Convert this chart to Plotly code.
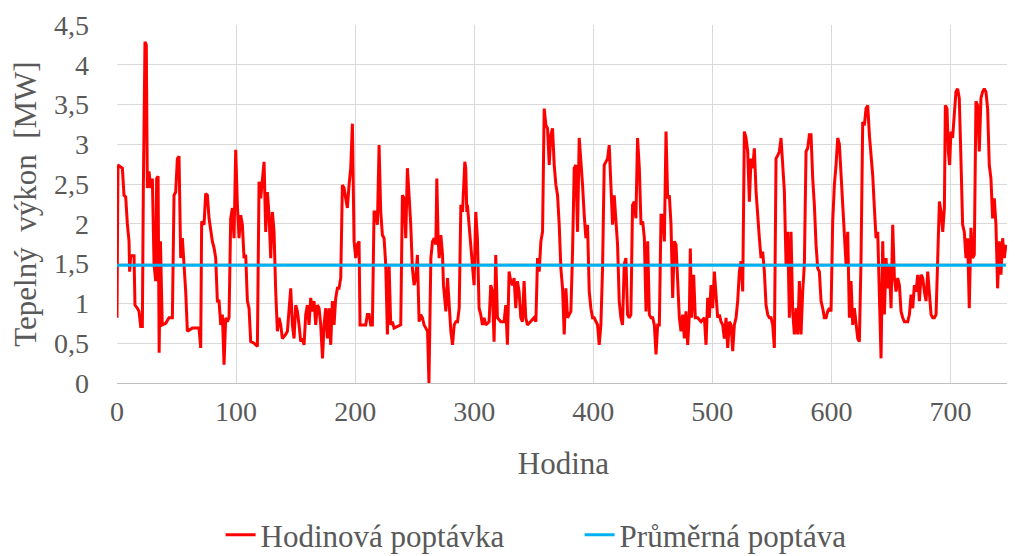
import plotly.graph_objects as go

# Hours (x) and hourly heat demand [MW]
hours = [0, 0.8, 2.5, 4.5, 5.9, 7.3, 8.7, 10.1, 10.6, 11.5, 14.3, 15.1, 17.1, 18.5, 19.9, 21.3, 22.1, 23.5, 24.6, 25.5,
         26.9, 28.3, 29.7, 31.1, 32.5, 33.3, 34.5, 35.4, 36.5, 38.0, 40.9, 43.7, 46.5, 47.9, 49.3, 50.7, 52.1, 52.9, 53.5, 54.9,
         56.3, 57.7, 59.1, 63.3, 68.9, 70.3, 71.1, 73.1, 74.5, 75.9, 77.3, 78.7, 80.1, 81.5, 82.9, 84.3, 85.7, 87.1, 88.5, 89.9,
         91.3, 92.7, 94.1, 95.5, 96.9, 98.3, 99.7, 101.1, 102.5, 103.9, 105.3, 106.7, 108.1, 109.5, 110.9, 112.3, 115.1, 117.9, 119.3, 120.7,
         122.1, 123.5, 124.9, 126.3, 127.7, 129.1, 130.5, 131.9, 133.3, 134.7, 136.1, 137.5, 138.9, 141.7, 143.1, 144.5, 145.9, 147.3, 148.7, 150.1,
         151.5, 152.9, 154.3, 155.7, 157.1, 158.5, 159.9, 161.3, 162.7, 164.1, 165.5, 166.9, 168.3, 169.7, 171.1, 172.6, 173.9, 175.3, 176.7, 178.1,
         179.5, 180.9, 182.3, 183.7, 185.1, 186.5, 187.9, 189.3, 190.7, 192.1, 193.5, 194.9, 196.3, 197.7, 199.1, 200.5, 201.9, 203.3, 204.1, 206.1,
         208.9, 210.3, 211.7, 213.1, 214.5, 215.9, 217.3, 218.7, 220.1, 221.5, 222.9, 224.3, 225.7, 227.1, 228.5, 229.9, 231.3, 232.7, 235.5, 238.3,
         239.7, 241.1, 242.5, 243.9, 245.3, 246.7, 248.1, 249.5, 250.9, 252.3, 253.7, 255.1, 256.5, 257.9, 259.4, 260.8, 262.0, 263.6, 265.0, 266.4,
         267.8, 268.6, 269.7, 270.6, 272.0, 273.4, 274.2, 274.8, 276.2, 277.6, 279.0, 280.4, 281.8, 283.2, 284.6, 286.0, 287.4, 288.8, 290.2, 291.0,
         292.1, 292.9, 293.8, 294.3, 295.7, 297.1, 298.5, 299.9, 301.3, 302.7, 304.1, 305.5, 306.9, 308.3, 309.7, 312.5, 313.9, 315.3, 316.7, 318.1,
         319.5, 322.3, 325.1, 326.5, 327.9, 329.3, 330.7, 332.1, 333.5, 334.9, 336.3, 337.7, 339.1, 340.5, 341.9, 343.3, 344.7, 347.5, 350.3, 351.8,
         353.2, 354.6, 356.0, 357.4, 358.3, 358.8, 360.2, 361.6, 363.0, 364.4, 365.8, 367.2, 368.6, 370.0, 371.4, 372.8, 374.2, 375.6, 377.0, 378.4,
         379.8, 381.2, 382.6, 384.0, 385.4, 386.8, 388.2, 389.6, 391.0, 392.4, 393.8, 395.2, 396.6, 398.0, 399.4, 400.8, 402.2, 403.6, 405.0, 406.4,
         407.8, 409.2, 410.6, 412.0, 413.4, 414.8, 416.2, 417.6, 419.0, 420.4, 421.8, 423.2, 424.6, 426.0, 427.4, 428.8, 430.2, 431.6, 433.0, 434.4,
         435.8, 437.2, 438.7, 440.1, 441.5, 442.9, 444.3, 445.7, 447.1, 448.5, 449.9, 451.3, 452.7, 454.1, 455.5, 456.9, 458.3, 459.7, 461.1, 462.5,
         463.9, 465.3, 466.7, 468.1, 469.5, 470.9, 472.3, 473.7, 475.1, 476.5, 477.9, 479.3, 480.7, 481.5, 482.6, 484.3, 485.7, 487.7, 490.5, 493.3,
         494.7, 496.1, 497.5, 498.9, 500.3, 501.7, 503.1, 504.5, 505.9, 507.3, 508.7, 510.1, 511.5, 512.9, 514.3, 515.7, 517.1, 518.5, 519.9, 521.3,
         522.7, 524.1, 525.5, 526.9, 528.3, 529.7, 531.1, 532.5, 533.9, 535.3, 536.7, 538.1, 539.5, 540.9, 542.3, 543.7, 545.1, 546.5, 547.9, 549.3,
         550.7, 552.1, 553.5, 554.9, 556.3, 557.7, 559.1, 560.5, 561.9, 563.3, 564.7, 566.1, 567.5, 568.9, 570.3, 571.7, 573.1, 574.5, 575.9, 577.3,
         578.7, 580.1, 581.5, 582.9, 584.3, 585.7, 587.1, 588.5, 589.9, 591.3, 592.7, 594.1, 595.5, 596.9, 598.3, 599.7, 601.1, 602.5, 603.9, 605.3,
         606.7, 608.1, 609.5, 610.9, 612.3, 613.7, 615.1, 616.5, 617.9, 619.3, 620.7, 622.1, 623.5, 624.9, 626.3, 627.7, 629.1, 630.5, 631.9, 633.3,
         634.7, 636.1, 637.5, 638.9, 640.3, 641.7, 643.1, 644.5, 645.9, 647.3, 648.7, 650.1, 651.5, 652.9, 654.3, 655.7, 657.1, 658.5, 659.9, 661.3,
         664.1, 665.5, 666.9, 668.3, 669.7, 671.1, 672.5, 673.9, 675.3, 676.7, 678.1, 679.5, 680.9, 682.3, 683.7, 685.1, 686.5, 687.9, 689.3, 690.7,
         692.1, 693.5, 694.9, 695.7, 697.1, 698.2, 699.3, 700.4, 701.8, 703.2, 704.6, 706.0, 707.4, 708.8, 710.2, 711.6, 713.0, 714.4, 715.8, 717.2,
         718.6, 720.0, 721.4, 722.8, 724.2, 725.6, 727.0, 728.4, 729.8, 731.2, 732.6, 734.0, 735.4, 736.8, 738.2, 739.6, 741.0, 742.4, 743.8, 745.2,
         746.6]

demand = [0.82, 2.74, 2.72, 2.70, 2.36, 2.34, 2.00, 1.78, 1.40, 1.60, 1.60, 0.98, 0.94, 0.90, 0.71, 0.71, 2.40, 4.29, 4.25, 2.45,
          2.66, 2.45, 2.57, 1.49, 1.28, 2.57, 2.60, 0.38, 1.78, 0.73, 0.75, 0.82, 0.82, 2.36, 2.40, 2.82, 2.85, 2.00, 1.57, 1.82,
          1.53, 1.15, 0.65, 0.69, 0.69, 0.44, 2.03, 1.99, 2.38, 2.36, 2.07, 1.90, 1.78, 1.70, 1.57, 1.03, 1.03, 0.73, 0.86, 0.23,
          0.82, 0.77, 0.82, 2.07, 2.20, 1.82, 2.93, 2.24, 1.82, 2.11, 1.99, 1.57, 1.61, 1.03, 0.94, 0.52, 0.50, 0.46, 2.53, 2.32,
          2.53, 2.78, 1.90, 2.40, 2.11, 1.57, 2.15, 1.90, 1.15, 0.65, 0.82, 0.73, 0.56, 0.61, 0.65, 0.94, 1.19, 0.73, 0.56, 0.98,
          0.90, 0.73, 0.52, 0.56, 0.48, 0.86, 0.98, 0.73, 1.07, 0.90, 1.03, 0.73, 0.98, 0.94, 0.73, 0.31, 0.73, 0.94, 0.56, 0.94,
          0.48, 1.03, 0.73, 1.07, 1.19, 1.19, 1.32, 2.49, 2.45, 2.32, 2.20, 2.49, 2.70, 3.26, 1.78, 1.57, 1.74, 1.78, 0.73, 0.73,
          0.73, 0.86, 0.86, 0.73, 0.73, 2.15, 2.15, 1.99, 2.99, 2.15, 1.86, 1.82, 1.49, 0.61, 1.49, 0.73, 0.77, 0.69, 0.71, 0.73,
          2.36, 2.32, 1.82, 2.70, 2.36, 1.99, 1.44, 1.23, 1.32, 1.61, 0.77, 0.86, 0.82, 0.73, 0.69, 0.65, 0.00, 1.57, 1.78, 1.82,
          1.74, 2.57, 1.82, 1.57, 1.86, 1.61, 1.23, 1.15, 0.90, 1.32, 0.98, 0.65, 0.48, 0.73, 0.77, 0.77, 0.94, 2.24, 2.15, 2.36,
          2.78, 2.70, 2.15, 2.24, 1.99, 1.74, 1.49, 1.23, 2.15, 1.82, 0.94, 0.86, 0.73, 0.82, 0.73, 0.77, 1.23, 1.15, 0.52, 1.61,
          0.82, 0.77, 0.77, 0.98, 0.48, 1.40, 1.28, 1.23, 1.32, 0.94, 1.28, 1.15, 0.82, 0.77, 1.28, 0.82, 0.73, 0.77, 0.82, 0.77,
          1.57, 1.40, 1.78, 1.90, 2.74, 3.45, 3.24, 3.20, 2.74, 3.12, 3.20, 2.74, 2.49, 2.36, 1.99, 1.44, 1.19, 0.61, 1.19, 0.82,
          0.86, 0.90, 1.65, 2.70, 2.74, 1.90, 3.08, 2.82, 2.49, 2.11, 1.82, 1.99, 1.15, 0.94, 0.82, 0.82, 0.77, 0.73, 0.48, 0.73,
          1.44, 2.74, 2.78, 2.82, 2.99, 2.41, 1.99, 2.36, 1.99, 1.74, 1.03, 0.82, 0.73, 1.49, 1.57, 0.86, 0.82, 0.86, 2.24, 2.28,
          2.07, 3.08, 2.70, 1.99, 2.03, 1.82, 0.90, 1.78, 0.86, 0.82, 0.82, 0.73, 0.36, 0.73, 0.73, 2.11, 2.11, 1.78, 3.16, 2.32,
          2.36, 1.99, 1.07, 1.78, 1.74, 1.15, 0.82, 0.65, 0.86, 0.56, 0.90, 0.48, 0.86, 1.69, 0.82, 1.36, 0.82, 0.82, 0.77, 0.82,
          0.48, 1.07, 0.82, 1.23, 0.94, 1.40, 1.03, 0.82, 0.86, 0.77, 0.73, 0.56, 0.82, 0.44, 0.77, 0.73, 0.40, 0.73, 0.82, 1.03,
          1.40, 1.53, 1.15, 3.16, 3.08, 2.91, 2.28, 2.82, 2.70, 2.95, 2.41, 2.07, 1.82, 1.57, 1.65, 1.40, 0.98, 0.86, 0.82, 0.82,
          0.73, 0.44, 2.82, 2.86, 2.91, 3.08, 2.74, 2.41, 1.49, 1.90, 0.82, 1.90, 0.90, 0.61, 0.94, 0.61, 1.28, 0.61, 1.15, 1.49,
          2.91, 2.95, 3.12, 3.12, 2.57, 2.24, 1.74, 1.44, 1.40, 1.03, 0.94, 0.82, 0.82, 0.90, 0.94, 0.90, 2.03, 2.49, 2.74, 3.08,
          3.00, 2.61, 2.20, 1.82, 1.49, 1.90, 0.82, 1.28, 0.73, 0.94, 0.73, 0.56, 0.52, 1.57, 3.28, 3.24, 3.45, 3.49, 3.12, 2.91,
          2.61, 2.20, 1.82, 1.90, 0.94, 0.31, 1.78, 0.86, 1.57, 1.19, 1.49, 0.94, 1.99, 1.32, 1.15, 1.32, 1.23, 0.90, 0.82, 0.77,
          0.77, 0.86, 1.11, 0.94, 1.23, 1.15, 1.36, 1.03, 1.36, 1.32, 1.15, 1.03, 1.40, 1.15, 0.86, 0.82, 0.82, 0.86, 1.57, 2.28,
          2.15, 1.90, 2.20, 3.49, 3.45, 2.91, 2.74, 3.16, 3.08, 3.33, 3.66, 3.70, 3.58, 2.82, 1.99, 1.90, 1.57, 1.82, 0.94, 1.95,
          1.57, 1.61, 3.54, 3.49, 2.91, 3.58, 3.66, 3.70, 3.66, 3.45, 2.74, 2.57, 2.07, 2.32, 1.99, 1.19, 1.78, 1.36, 1.82, 1.57,
          1.74]

average_demand = 1.48
y_tick_values = [0, 0.5, 1, 1.5, 2, 2.5, 3, 3.5, 4, 4.5]
y_tick_labels = ["0", "0,5", "1", "1,5", "2", "2,5", "3", "3,5", "4", "4,5"]
x_tick_values = [0, 100, 200, 300, 400, 500, 600, 700]

FONT = "Liberation Serif"
TXT = "#595959"
GRID = "#d9d9d9"

fig = go.Figure()
fig.add_trace(go.Scatter(
    x=hours, y=demand, mode="lines", name="Hodinová poptávka",
    line=dict(color="#ff0000", width=3)))
fig.add_trace(go.Scatter(
    x=[hours[0], hours[-1]], y=[average_demand, average_demand], mode="lines",
    name="Průměrná poptáva", line=dict(color="#00b0f0", width=3)))

# the page body adds an 8px offset, so the figure is sized to fit inside the window
fig.update_layout(
    width=1007, height=548,
    margin=dict(l=109, r=5, t=17, b=173, autoexpand=False),
    paper_bgcolor="white", plot_bgcolor="white",
    font=dict(family=FONT, color=TXT, size=28),
    showlegend=True,
    legend=dict(orientation="h", x=0.116, xanchor="left", y=-0.425, yanchor="middle",
                font=dict(family=FONT, size=31, color=TXT), entrywidth=314,
                bgcolor="rgba(0,0,0,0)"),
    xaxis=dict(range=[0, 750], tickvals=x_tick_values, showgrid=True, gridcolor=GRID, gridwidth=1,
               showline=True, linecolor="#bfbfbf", linewidth=1, zeroline=False, ticks="",
               tickfont=dict(family=FONT, size=28, color=TXT), ticklabelstandoff=3,
               title=dict(text="Hodina", font=dict(family=FONT, size=31, color=TXT), standoff=26),
               automargin=False),
    yaxis=dict(range=[0, 4.5], tickvals=y_tick_values, ticktext=y_tick_labels, showgrid=True,
               gridcolor=GRID, gridwidth=1, zeroline=False, showline=False, ticks="",
               tickfont=dict(family=FONT, size=28, color=TXT), ticklabelstandoff=27,
               title=dict(text="Tepelný\u00a0 výkon\u00a0 [MW]", font=dict(family=FONT, size=31, color=TXT),
                          standoff=8),
               automargin=False),
)

fig.write_html("out.html")
